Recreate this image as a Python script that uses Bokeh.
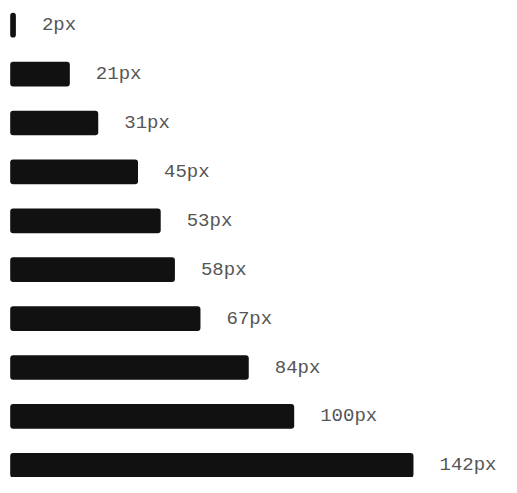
from bokeh.plotting import figure
from bokeh.models import ColumnDataSource, Range1d
from bokeh.core.properties import value
from bokeh.embed import file_html
from bokeh.resources import INLINE

values = [2, 21, 31, 45, 53, 58, 67, 84, 100, 142]
labels = ["2px", "21px", "31px", "45px", "53px", "58px", "67px", "84px", "100px", "142px"]
rows = list(range(len(values)))

src = ColumnDataSource(dict(y=rows, v=values, lab=labels))

W, H = 501, 477
scale = 2.84      # px per unit
x0px = 9.7        # px offset of zero
row_px = 48.9
top_px = 24.7
bar_px = 24.7

p = figure(width=W, height=H, output_backend="svg", toolbar_location=None,
           x_range=Range1d(-x0px / scale, (W - x0px) / scale),
           y_range=Range1d((H - top_px) / row_px, -top_px / row_px),
           min_border=0, outline_line_color=None)
p.axis.visible = False
p.grid.visible = False
p.background_fill_color = "white"
p.border_fill_color = "white"

p.hbar(y="y", left=0, right="v", height=bar_px / row_px, source=src,
       fill_color="#111111", line_color=None, border_radius=3)
p.text(x="v", y="y", text="lab", source=src, x_offset=26,
       text_baseline="middle", text_align="left", text_color="#555555",
       text_font=value("Liberation Mono"), text_font_size="19px")

open("out.html", "w").write(file_html(p, INLINE))
